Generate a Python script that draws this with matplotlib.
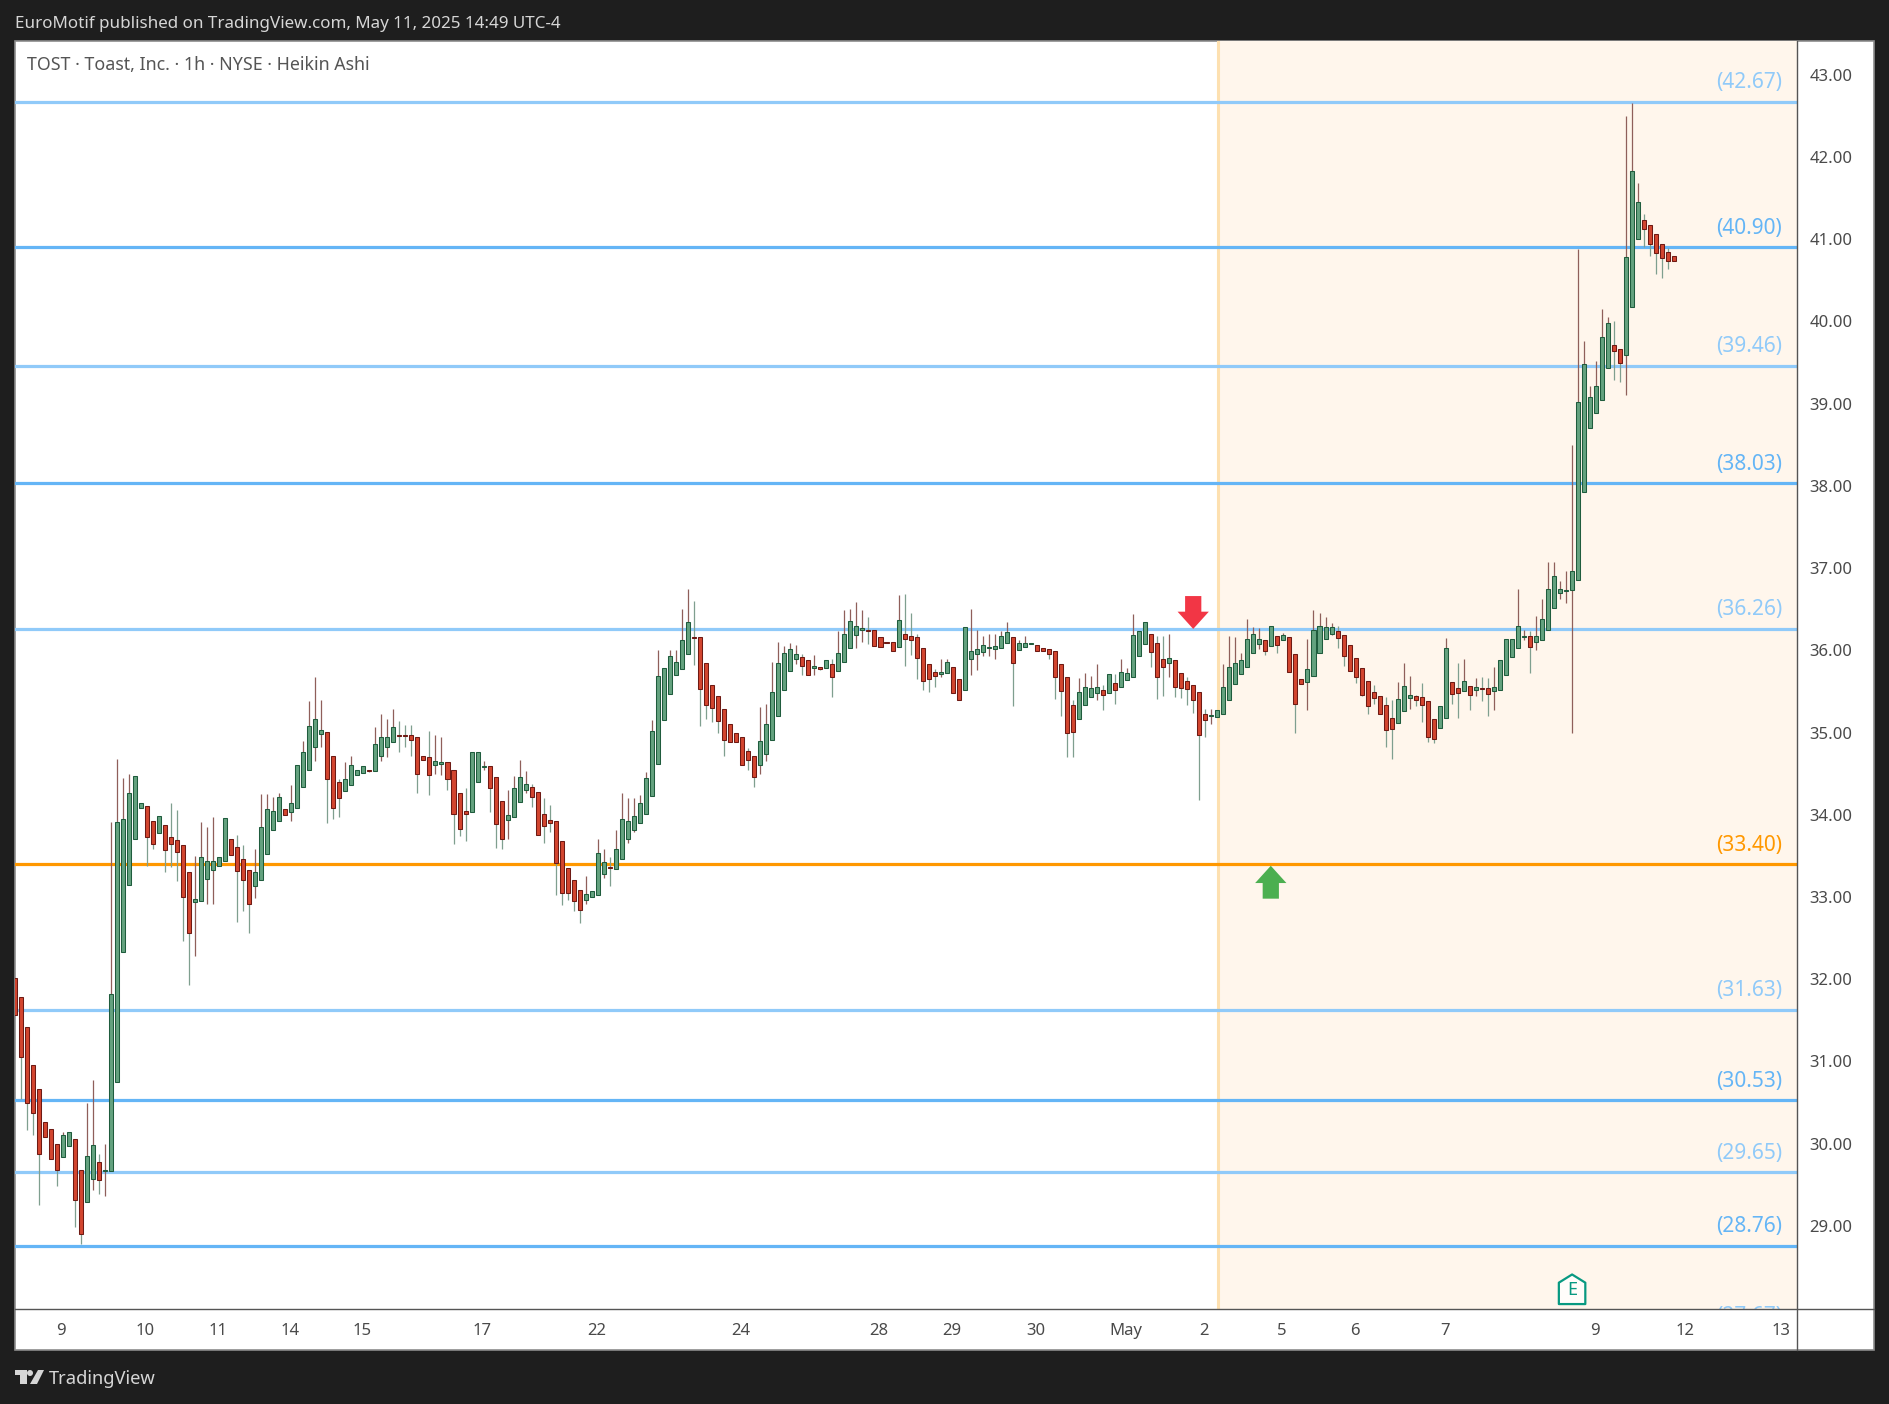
# -*- coding: utf-8 -*-
import numpy as np
import matplotlib
matplotlib.use('Agg')
import matplotlib.pyplot as plt
from matplotlib.lines import Line2D
from matplotlib.patches import Polygon, Rectangle

W, H = 1890, 1404

# Heikin Ashi bars, one hour each
opens = [32.02,31.78,31.42,30.96,30.67,30.26,30.18,30.00,29.84,29.97,
    30.06,29.68,29.29,29.57,29.78,29.67,29.67,30.75,32.33,33.15,
    33.71,34.08,34.11,33.93,33.78,33.88,33.73,33.69,33.63,33.31,
    32.94,32.95,33.22,33.33,33.38,33.44,33.71,33.61,33.46,33.33,
    33.13,33.21,33.52,33.81,33.92,34.07,34.04,34.08,34.34,34.55,
    34.82,34.98,35.01,34.72,34.40,34.29,34.36,34.48,34.51,34.55,
    34.53,34.71,34.83,34.89,34.97,34.97,34.97,34.94,34.72,34.70,
    34.60,34.62,34.64,34.54,34.27,34.05,34.04,34.40,34.58,34.59,
    34.46,34.17,33.94,33.97,34.15,34.30,34.34,34.28,34.01,33.94,
    33.93,33.68,33.35,33.21,33.09,32.96,33.00,33.03,33.28,33.36,
    33.34,33.46,33.71,33.82,33.90,34.01,34.23,34.62,35.15,35.47,
    35.70,35.77,35.96,36.16,36.16,35.84,35.58,35.45,35.29,35.11,
    35.00,34.95,34.77,34.72,34.60,34.74,34.91,35.20,35.52,35.75,
    35.89,35.92,35.88,35.79,35.80,35.79,35.83,35.75,35.86,36.03,
    36.19,36.25,36.25,36.25,36.16,36.10,36.10,36.04,36.20,36.17,
    36.16,36.03,35.83,35.74,35.71,35.73,35.80,35.65,35.52,35.90,
    35.95,35.98,36.03,36.02,36.03,36.09,36.16,36.01,36.04,36.08,
    36.07,36.03,36.02,35.99,35.83,35.67,35.33,35.17,35.33,35.43,
    35.48,35.52,35.48,35.60,35.56,35.64,35.68,35.93,36.08,36.20,
    36.09,35.89,35.84,35.88,35.72,35.63,35.58,35.49,35.23,35.20,
    35.19,35.23,35.40,35.59,35.71,35.80,35.97,36.08,36.12,36.05,
    36.18,36.12,36.16,35.95,35.65,35.62,35.69,35.97,36.14,36.20,
    36.24,36.19,36.07,35.91,35.79,35.63,35.49,35.45,35.34,35.18,
    35.12,35.26,35.42,35.44,35.43,35.38,35.17,35.05,35.18,35.61,
    35.54,35.51,35.57,35.52,35.54,35.54,35.51,35.52,35.70,35.92,
    36.03,36.16,36.17,36.10,36.13,36.25,36.51,36.70,36.72,36.73,
    36.85,37.93,38.70,38.89,39.05,39.43,39.71,39.67,39.59,40.18,
    41.00,41.23,41.17,41.06,40.94,40.85,40.79]
closes = [31.56,31.06,30.50,30.37,29.87,30.08,29.82,29.68,30.11,30.14,
    29.31,28.90,29.85,29.98,29.56,29.68,31.82,33.91,33.95,34.27,
    34.47,34.14,33.73,33.64,33.99,33.57,33.64,33.55,33.00,32.56,
    32.98,33.49,33.44,33.44,33.49,33.96,33.51,33.32,33.21,32.91,
    33.30,33.85,34.07,34.05,34.22,34.00,34.14,34.61,34.76,35.08,
    35.16,35.03,34.44,34.08,34.20,34.44,34.61,34.54,34.59,34.53,
    34.86,34.94,34.94,35.07,34.96,34.96,34.91,34.50,34.67,34.48,
    34.65,34.64,34.44,34.01,33.83,34.01,34.76,34.76,34.59,34.33,
    33.89,33.71,34.00,34.33,34.46,34.37,34.22,33.75,33.86,33.90,
    33.41,33.05,33.05,32.95,32.84,33.04,33.07,33.53,33.43,33.35,
    33.59,33.95,33.93,33.99,34.14,34.45,35.02,35.69,35.78,35.93,
    35.86,36.13,36.35,36.15,35.53,35.34,35.30,35.14,34.91,34.89,
    34.89,34.60,34.67,34.46,34.90,35.10,35.49,35.84,35.97,36.02,
    35.96,35.81,35.70,35.81,35.77,35.88,35.67,35.97,36.20,36.36,
    36.30,36.27,36.24,36.05,36.04,36.09,35.99,36.37,36.14,36.13,
    35.91,35.63,35.65,35.69,35.74,35.86,35.48,35.40,36.28,35.99,
    36.02,36.06,36.04,36.05,36.17,36.22,35.85,36.09,36.09,36.09,
    35.99,35.99,35.95,35.68,35.50,35.00,35.01,35.49,35.55,35.54,
    35.55,35.46,35.71,35.52,35.74,35.72,36.19,36.23,36.34,35.98,
    35.67,35.80,35.91,35.56,35.54,35.53,35.39,34.97,35.15,35.21,
    35.27,35.56,35.80,35.84,35.88,36.14,36.20,36.14,35.99,36.29,
    36.07,36.19,35.74,35.35,35.59,35.77,36.25,36.30,36.28,36.28,
    36.15,35.93,35.75,35.67,35.46,35.32,35.42,35.22,35.03,35.04,
    35.41,35.57,35.46,35.40,35.34,34.95,34.92,35.32,36.03,35.47,
    35.48,35.63,35.46,35.56,35.53,35.47,35.55,35.88,36.14,36.14,
    36.30,36.18,36.04,36.17,36.38,36.75,36.91,36.75,36.73,36.97,
    39.02,39.48,39.08,39.22,39.81,39.98,39.64,39.50,40.78,41.83,
    41.45,41.12,40.94,40.83,40.77,40.73,40.74]
highs = [32.02,31.78,31.42,30.96,30.67,30.26,30.18,30.00,30.14,30.14,
    30.06,29.68,30.50,30.77,29.88,30.00,33.91,34.68,34.45,34.50,
    34.47,34.14,34.11,33.93,33.99,33.88,34.14,34.06,33.63,33.31,
    33.50,33.91,33.85,33.97,33.49,33.96,33.71,33.76,33.63,33.33,
    33.58,34.25,34.25,34.22,34.27,34.07,34.36,34.61,34.90,35.38,
    35.67,35.39,35.01,34.72,34.44,34.64,34.72,34.54,34.59,34.55,
    35.07,35.23,35.16,35.29,35.14,35.09,35.09,34.94,34.72,35.02,
    34.97,34.95,34.64,34.54,34.27,34.32,34.76,34.76,34.65,34.59,
    34.46,34.17,34.30,34.47,34.67,34.53,34.37,34.28,34.20,34.12,
    33.93,33.68,33.35,33.21,33.09,33.26,33.07,33.70,33.59,33.49,
    33.81,34.26,34.20,34.21,34.24,34.52,35.15,36.00,35.78,36.00,
    36.00,36.50,36.74,36.60,36.16,35.84,35.58,35.45,35.29,35.11,
    35.00,34.95,34.81,34.72,35.31,35.35,35.86,36.10,36.05,36.09,
    36.07,35.95,35.88,35.94,35.80,35.88,35.89,36.23,36.49,36.50,
    36.59,36.49,36.40,36.25,36.16,36.10,36.10,36.67,36.68,36.45,
    36.20,36.03,35.83,35.77,35.90,35.90,35.80,35.65,36.28,36.50,
    36.25,36.17,36.20,36.20,36.23,36.34,36.16,36.12,36.18,36.09,
    36.07,36.03,36.02,35.99,35.83,35.67,35.39,35.66,35.72,35.69,
    35.83,35.58,35.71,35.71,35.89,35.79,36.44,36.23,36.34,36.20,
    36.18,36.17,36.20,35.88,35.72,35.67,35.58,35.49,35.29,35.29,
    35.27,35.83,36.17,36.16,35.97,36.38,36.28,36.27,36.12,36.29,
    36.18,36.21,36.16,35.95,35.65,36.14,36.49,36.46,36.40,36.33,
    36.29,36.19,36.07,35.91,35.79,35.63,35.58,35.45,35.43,35.39,
    35.62,35.84,35.69,35.46,35.60,35.38,35.17,35.32,36.15,35.61,
    35.85,35.89,35.57,35.66,35.68,35.66,35.80,35.88,36.14,36.14,
    36.74,36.25,36.23,36.42,36.62,37.07,37.07,36.84,36.97,38.50,
    40.88,39.76,39.21,39.52,40.15,40.05,40.00,39.67,42.50,42.65,
    41.68,41.31,41.17,41.06,40.94,40.89,40.79]
lows = [31.56,30.54,30.17,30.11,29.25,30.08,29.81,29.49,29.84,29.97,
    28.99,28.78,29.29,29.44,29.39,29.37,29.67,30.75,32.33,33.15,
    33.71,34.08,33.38,33.59,33.78,33.31,33.36,33.19,32.46,31.93,
    32.28,32.95,32.91,32.91,33.38,33.44,33.51,32.70,32.83,32.56,
    32.99,33.21,33.52,33.81,33.92,34.00,33.92,34.08,34.34,34.55,
    34.65,34.82,33.90,33.95,33.97,34.29,34.36,34.48,34.51,34.52,
    34.53,34.66,34.70,34.89,34.76,34.82,34.72,34.26,34.67,34.24,
    34.49,34.48,34.30,33.65,33.74,33.68,34.04,34.40,34.54,34.04,
    33.60,33.59,33.71,33.97,34.15,34.26,34.09,33.75,33.66,33.79,
    33.03,32.90,32.96,32.83,32.69,32.91,33.00,33.03,33.23,33.14,
    33.34,33.46,33.66,33.79,33.90,34.01,34.23,34.62,35.15,35.47,
    35.70,35.77,35.96,35.82,35.08,35.16,35.13,34.99,34.71,34.89,
    34.89,34.60,34.54,34.34,34.49,34.65,34.91,35.20,35.52,35.75,
    35.83,35.70,35.70,35.70,35.76,35.79,35.43,35.75,35.86,36.03,
    36.03,36.10,36.08,36.05,36.04,36.09,35.99,36.04,35.81,35.94,
    35.65,35.52,35.49,35.56,35.67,35.73,35.48,35.40,35.52,35.70,
    35.76,35.93,35.93,35.89,36.03,36.09,35.32,36.01,36.04,36.08,
    35.99,35.99,35.90,35.41,35.20,34.70,34.70,35.17,35.33,35.43,
    35.39,35.27,35.48,35.35,35.56,35.64,35.68,35.93,36.08,35.80,
    35.41,35.45,35.67,35.43,35.42,35.33,35.24,34.18,34.94,35.11,
    35.19,35.23,35.40,35.59,35.71,35.80,35.97,36.02,35.94,36.05,
    35.97,36.12,35.74,34.99,35.59,35.27,35.69,35.97,36.14,36.19,
    36.03,35.81,35.75,35.60,35.44,35.22,35.35,35.22,34.82,34.68,
    35.12,35.26,35.29,35.32,35.13,34.88,34.87,35.05,35.18,35.35,
    35.18,35.51,35.27,35.44,35.38,35.20,35.27,35.52,35.70,35.92,
    36.03,36.12,35.72,36.00,36.13,36.25,36.51,36.62,36.57,34.99,
    36.85,37.93,38.70,38.89,39.05,39.43,39.29,39.26,39.11,40.18,
    41.00,40.91,40.79,40.58,40.53,40.64,40.74]

# horizontal levels
levels = [42.67, 40.90, 39.46, 38.03, 36.26, 33.40, 31.63, 30.53, 29.65, 28.76, 27.67]
level_colors = ['#90caf9', '#64b5f6', '#90caf9', '#64b5f6', '#90caf9', '#ff9800',
                '#90caf9', '#64b5f6', '#90caf9', '#64b5f6', '#90caf9']

# axis labels
price_ticks = [29, 30, 31, 32, 33, 34, 35, 36, 37, 38, 39, 40, 41, 42, 43]
date_pos = [7.8, 21.7, 33.8, 45.8, 57.8, 77.8, 96.8, 120.8, 143.8, 155.8, 169.8, 184.8,
            197.8, 210.8, 222.8, 237.8, 262.8, 277.8, 293.8]
date_labels = ['9', '10', '11', '14', '15', '17', '22', '24', '28', '29', '30', 'May',
               '2', '5', '6', '7', '9', '12', '13']

FONT = 'Noto Sans'
plt.rcParams['font.family'] = [FONT, 'DejaVu Sans']
TEXT = '#4a4a4a'
LINE = '#555555'


def fx(px):
    return px / W


def fy(py):
    return 1 - py / H


def fig_line(fig, x0, y0, x1, y1, color=LINE, lw=1.0):
    fig.add_artist(Line2D([fx(x0), fx(x1)], [fy(y0), fy(y1)], color=color, lw=lw, zorder=3))


def arrow(ax, k, tip, sign, color):
    # block arrow, sign=-1 points down, sign=1 points up
    pts = [(k, tip), (k + 2.6, tip - sign * 0.21), (k + 1.35, tip - sign * 0.21),
           (k + 1.35, tip - sign * 0.40), (k - 1.35, tip - sign * 0.40),
           (k - 1.35, tip - sign * 0.21), (k - 2.6, tip - sign * 0.21)]
    ax.add_patch(Polygon(pts, closed=True, fc=color, ec='none', zorder=6))


fig = plt.figure(figsize=(W / 100, H / 100), dpi=100, facecolor='#1e1e1e')

# white panel behind chart and the axis strips
fig.add_artist(Rectangle((fx(15), fy(1350)), fx(1874 - 15), (1350 - 41) / H, fc='white',
                         ec='#8c8c8c', lw=1.2, transform=fig.transFigure, zorder=0))

ax = fig.add_axes([fx(15), fy(1309), fx(1797 - 15), (1309 - 41) / H])
ax.patch.set_alpha(0)
ax.set_zorder(2)
ax.set_xlim(0.083, 296.4)
ax.set_ylim(27.99, 43.41)

# shaded part on the right
ax.axvspan(200.05, 296.4, color='#fff6ec', lw=0, zorder=0)
ax.axvline(200.05, color='#fde0b0', lw=2.2, zorder=1)

# levels and their labels
for lev, col in zip(levels, level_colors):
    ax.axhline(lev, color=col, lw=2.3, zorder=2)
    ax.annotate('({:.2f})'.format(lev), xy=(1, lev), xycoords=ax.get_yaxis_transform(),
                xytext=(-15, 19), textcoords='offset pixels', ha='right', va='center',
                color=col, fontsize=15, clip_on=True, annotation_clip=False, zorder=3)

# candles, the wicks are coloured against the body
o = np.array(opens)
c = np.array(closes)
hi = np.array(highs)
lo = np.array(lows)
idx = np.arange(len(o))
up = c >= o
ax.vlines(idx[up], lo[up], hi[up], color='#8f5f5a', lw=0.9, zorder=4)
ax.vlines(idx[~up], lo[~up], hi[~up], color='#7f9f8f', lw=0.9, zorder=4)
ax.bar(idx[up], c[up] - o[up], bottom=o[up], width=0.67, color='#64a27f',
       edgecolor='#1f5c3d', lw=0.75, zorder=5)
ax.bar(idx[~up], o[~up] - c[~up], bottom=c[~up], width=0.67, color='#d2452f',
       edgecolor='#6e1a14', lw=0.75, zorder=5)

# markers
arrow(ax, 196, 36.26, -1, '#f23645')
arrow(ax, 208.9, 33.38, 1, '#4caf50')
house = [(259, 28.41), (261.2, 28.31), (261.2, 28.05), (256.8, 28.05), (256.8, 28.31)]
ax.add_patch(Polygon(house, closed=True, fc='#fffdfa', ec='#089981', lw=1.6, joinstyle='round', zorder=6))
ax.text(259, 28.22, 'E', color='#089981', fontsize=13, fontweight='bold', ha='center', va='center', zorder=7)

# axes look
for side in ['top', 'left', 'right', 'bottom']:
    ax.spines[side].set_visible(False)
ax.yaxis.tick_right()
ax.set_yticks(price_ticks)
ax.set_yticklabels(['{:.2f}'.format(p) for p in price_ticks])
ax.tick_params(axis='y', length=0, pad=8.8, labelsize=12, labelcolor=TEXT)
ax.set_xticks(date_pos)
ax.set_xticklabels(date_labels)
ax.tick_params(axis='x', length=0, pad=10, labelsize=12, labelcolor=TEXT)
for lab in ax.get_xticklabels():
    if lab.get_text() == 'May':
        lab.set_fontweight('bold')

fig_line(fig, 1797, 41, 1797, 1350)
fig_line(fig, 15, 1309, 1874, 1309)

# title texts
fig.text(fx(15), fy(24), 'EuroMotif published on TradingView.com, May 11, 2025 14:49 UTC-4',
         color='#d6d6d6', fontsize=12.25, ha='left', va='center')
fig.text(fx(27), fy(65), 'TOST · Toast, Inc. · 1h · NYSE · Heikin Ashi',
         color='#555555', fontsize=12.8, ha='left', va='center')
fig.text(fx(49), fy(1379), 'TradingView', color='#d6d6d6', fontsize=13.2, ha='left', va='center')

# logo
logo = '#d6d6d6'
T_shape = [(15, 1370), (27, 1370), (27, 1384), (20, 1384), (20, 1375), (15, 1375)]
slash = [(38, 1370), (44, 1370), (37, 1384), (30, 1384)]
for pts in [T_shape, slash]:
    fig.add_artist(Polygon([(fx(a), fy(b)) for a, b in pts], closed=True, fc=logo, ec='none',
                           transform=fig.transFigure))
fig.add_artist(Polygon([(fx(30 + 3 * np.cos(t)), fy(1373 + 3 * np.sin(t))) for t in np.linspace(0, 6.28, 24)],
                       closed=True, fc=logo, ec='none', transform=fig.transFigure))

fig.savefig('out.png', dpi=100, facecolor=fig.get_facecolor())
